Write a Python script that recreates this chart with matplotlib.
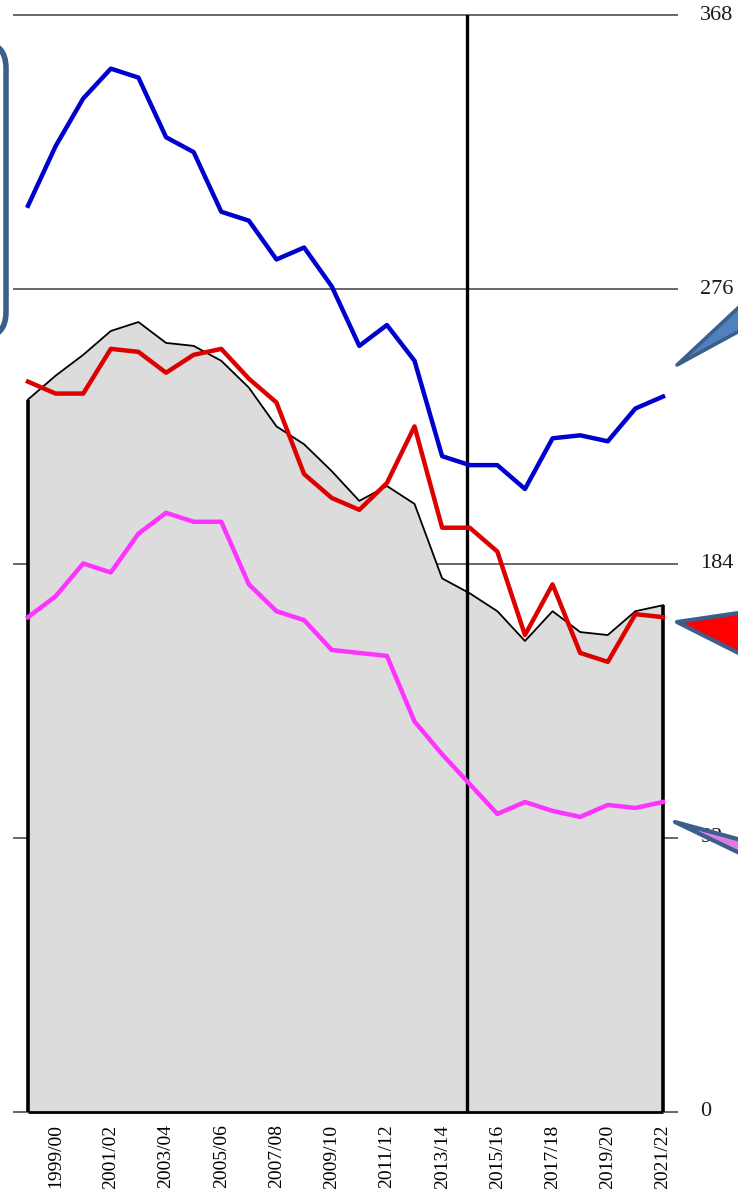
import matplotlib
matplotlib.use("Agg")
import matplotlib.pyplot as plt
from matplotlib.patches import Polygon, FancyBboxPatch
from matplotlib.transforms import offset_copy

# seasons 1998/99 .. 2021/22
years = ["1998/99", "1999/00", "2000/01", "2001/02", "2002/03", "2003/04",
         "2004/05", "2005/06", "2006/07", "2007/08", "2008/09", "2009/10",
         "2010/11", "2011/12", "2012/13", "2013/14", "2014/15", "2015/16",
         "2016/17", "2017/18", "2018/19", "2019/20", "2020/21", "2021/22"]

# values
blue = [304, 324, 340, 350, 347, 327, 322, 302, 299, 286, 290, 277,
        257, 264, 252, 220, 217, 217, 209, 226, 227, 225, 236, 240]
total = [239, 247, 254, 262, 265, 258, 257, 252, 243, 230, 224, 215,
         205, 210, 204, 179, 174, 168, 158, 168, 161, 160, 168, 170]
red = [245, 241, 241, 256, 255, 248, 254, 256, 246, 238, 214, 206,
       202, 211, 230, 196, 196, 188, 160, 177, 154, 151, 167, 166]
magenta = [166, 173, 184, 181, 194, 201, 198, 198, 177, 168, 165, 155,
           154, 153, 131, 120, 110, 100, 104, 101, 99, 103, 102, 104]

y_ticks = [0, 92, 184, 276, 368]
label_years = years[1::2]
split_year = "2014/15"

W, H = 738, 1189
fig = plt.figure(figsize=(W / 100, H / 100), dpi=100)
ax = fig.add_axes([28 / W, 77 / H, 635 / W, 1097 / H])

x = list(range(len(years)))
n = len(years) - 1

# grid lines (behind the grey area)
ax.hlines(y_ticks, -0.54, n + 0.54, color="#404040", lw=1.1, zorder=1,
          clip_on=False)

# grey area with black outline
ax.fill_between(x, 0, total, color="#dcdcdc", lw=0, zorder=2)
ax.plot(x, total, color="black", lw=1.3, zorder=3, clip_on=False)
ax.vlines([0], 0, total[0], color="black", lw=2.6, zorder=3, clip_on=False)
ax.vlines([n], 0, total[-1], color="black", lw=2.6, zorder=3, clip_on=False)
ax.hlines([0], 0, n, color="black", lw=2.0, zorder=3, clip_on=False)

# vertical marker
ax.axvline(years.index(split_year) - 0.1, color="black", lw=2.4, zorder=4)

# series lines
ax.plot(x, blue, color="#0000cc", lw=3.2, zorder=5, clip_on=False)
ax.plot(x, red, color="#dd0000", lw=3.2, zorder=5, clip_on=False)
ax.plot(x, magenta, color="#ff33ff", lw=3.2, zorder=5, clip_on=False)

ax.set_xlim(0, n)
ax.set_ylim(0, 368)
for s in ax.spines.values():
    s.set_visible(False)
ax.set_yticks([])
ax.set_xticks([years.index(y) for y in label_years])
ax.set_xticklabels(label_years, rotation=90, fontsize=14,
                   family="Liberation Serif")
ax.tick_params(axis="x", length=0, pad=9)

# right-hand value labels
trans = offset_copy(ax.transData, fig=fig, x=37, y=0, units="dots")
for v in y_ticks:
    ax.text(n, v, str(v), transform=trans, ha="left", va="center",
            fontsize=16, family="Liberation Serif", color="#1a1a1a",
            clip_on=False, zorder=1)


# callout shapes (pixel coordinates from top-left)
def px(pts):
    return [(a, H - b) for a, b in pts]


edge = "#3a5f8b"
box = FancyBboxPatch((-200, H - 338), 206, 296,
                     boxstyle="round,pad=0,rounding_size=26",
                     transform=None, facecolor="white", edgecolor=edge, lw=4)
fig.add_artist(box)

fig.add_artist(Polygon(px([(677, 365), (800, 250), (800, 298)]), closed=True,
                       transform=None, facecolor="#4f81bd", edgecolor=edge,
                       lw=2.6, joinstyle="round"))
fig.add_artist(Polygon(px([(677, 622), (800, 604), (800, 684)]), closed=True,
                       transform=None, facecolor="#ff0000", edgecolor=edge,
                       lw=3.0, joinstyle="round"))
fig.add_artist(Polygon(px([(675, 822), (800, 856), (800, 882)]), closed=True,
                       transform=None, facecolor="#e07be0", edgecolor=edge,
                       lw=3.0, joinstyle="round", zorder=10))

fig.savefig("out.png", dpi=100)
